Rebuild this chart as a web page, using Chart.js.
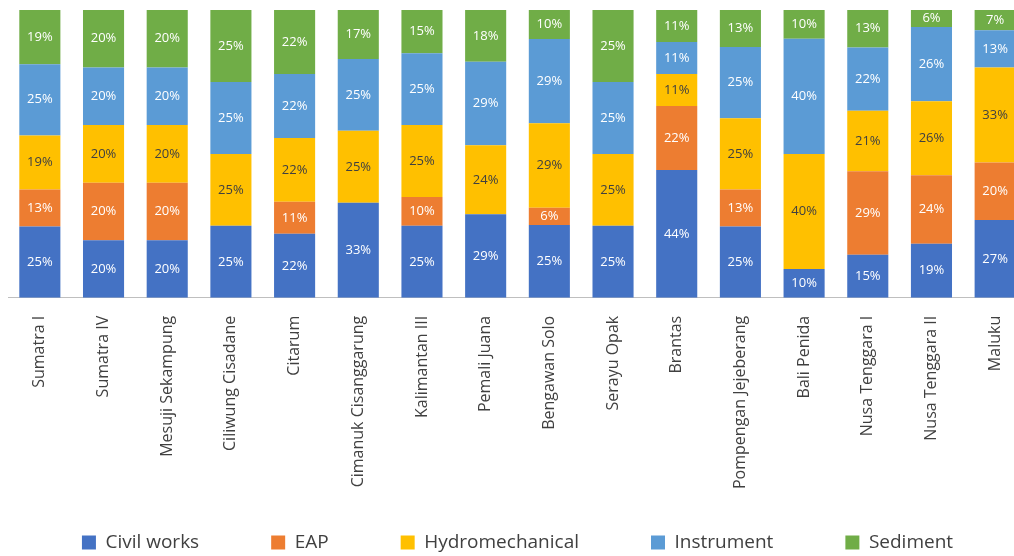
<!DOCTYPE html>
<html>
<head>
<meta charset="utf-8">
<script src="https://cdn.jsdelivr.net/npm/chart.js@4.4.0/dist/chart.umd.min.js"></script>
<style>
  html, body { margin: 0; padding: 0; background: #fff; overflow: hidden; }
  #wrap { width: 1030px; height: 556px; }
</style>
</head>
<body>
<div id="wrap"><canvas id="mycanvas"></canvas></div>
<script>
var regions = ["Sumatra I", "Sumatra IV", "Mesuji Sekampung", "Ciliwung Cisadane", "Citarum",
  "Cimanuk Cisanggarung", "Kalimantan III", "Pemali Juana", "Bengawan Solo", "Serayu Opak",
  "Brantas", "Pompengan Jejeberang", "Bali Penida", "Nusa Tenggara I", "Nusa Tenggara II", "Maluku"];

var civilWorks     = [25, 20, 20, 25, 22, 33, 25, 29, 25, 25, 44, 25, 10, 15, 19, 27];
var eap            = [13, 20, 20,  0, 11,  0, 10,  0,  6,  0, 22, 13,  0, 29, 24, 20];
var hydromech      = [19, 20, 20, 25, 22, 25, 25, 24, 29, 25, 11, 25, 40, 21, 26, 33];
var instrument     = [25, 20, 20, 25, 22, 25, 25, 29, 29, 25, 11, 25, 40, 22, 26, 13];
var sediment       = [19, 20, 20, 25, 22, 17, 15, 18, 10, 25, 11, 13, 10, 13,  6,  7];

var series = [
  { label: "Civil works",     values: civilWorks, color: "#4472C4", text: "#ffffff" },
  { label: "EAP",             values: eap,        color: "#ED7D31", text: "#ffffff" },
  { label: "Hydromechanical", values: hydromech,  color: "#FFC000", text: "#404040" },
  { label: "Instrument",      values: instrument, color: "#5B9BD5", text: "#ffffff" },
  { label: "Sediment",        values: sediment,   color: "#70AD47", text: "#ffffff" }
];

// totals per region so each column fills 100%
var totals = regions.map(function(r, i) {
  var t = 0;
  series.forEach(function(s) { t += s.values[i]; });
  return t;
});

var datasets = series.map(function(s) {
  return {
    label: s.label,
    data: s.values.map(function(v, i) { return v / totals[i] * 100; }),
    raw: s.values,
    textColor: s.text,
    backgroundColor: s.color,
    borderWidth: 0,
    categoryPercentage: 1,
    barPercentage: 0.645
  };
});

// draws the % numbers in the middle of each segment
var segmentLabels = {
  id: "segmentLabels",
  afterDatasetsDraw: function(chart) {
    var ctx = chart.ctx;
    ctx.save();
    ctx.font = "13px 'Open Sans'";
    ctx.textAlign = "center";
    ctx.textBaseline = "middle";
    chart.data.datasets.forEach(function(ds, di) {
      var meta = chart.getDatasetMeta(di);
      meta.data.forEach(function(bar, i) {
        var v = ds.raw[i];
        if (!v) return;
        ctx.fillStyle = ds.textColor;
        ctx.fillText(v + "%", bar.x, (bar.y + bar.base) / 2);
      });
    });
    ctx.restore();
  }
};

// legend padding is big for the wide item gaps; take back the vertical part of it
var legendSquash = {
  id: "legendSquash",
  beforeLayout: function(chart) {
    var lg = chart.legend;
    if (lg && !lg._squashed) {
      var fit = lg.fit;
      lg.fit = function() { fit.call(this); this.height -= 44; };
      lg._squashed = true;
    }
  },
  afterLayout: function(chart) {
    if (chart.legend) {
      chart.legend.top -= 38;
    }
  }
};

var ctx = document.getElementById("mycanvas");
var chart = new Chart(ctx, {
  type: "bar",
  data: { labels: regions, datasets: datasets },
  plugins: [segmentLabels, legendSquash],
  options: {
    responsive: true,
    maintainAspectRatio: false,
    animation: false,
    layout: { padding: { left: 8, right: 3, top: 10, bottom: 0 } },
    plugins: {
      tooltip: { enabled: false },
      legend: {
        position: "bottom",
        labels: {
          font: { family: "'Open Sans'", size: 19 },
          color: "#404040",
          boxWidth: 14,
          boxHeight: 14,
          padding: 72
        }
      }
    },
    scales: {
      x: {
        stacked: true,
        grid: { display: false },
        border: { display: true, color: "#bfbfbf", width: 1 },
        ticks: {
          minRotation: 90,
          maxRotation: 90,
          autoSkip: false,
          padding: 10,
          color: "#404040",
          font: { family: "'Open Sans'", size: 16 }
        }
      },
      y: {
        stacked: true,
        display: false,
        min: 0,
        max: 100
      }
    }
  }
});
</script>
</body>
</html>
